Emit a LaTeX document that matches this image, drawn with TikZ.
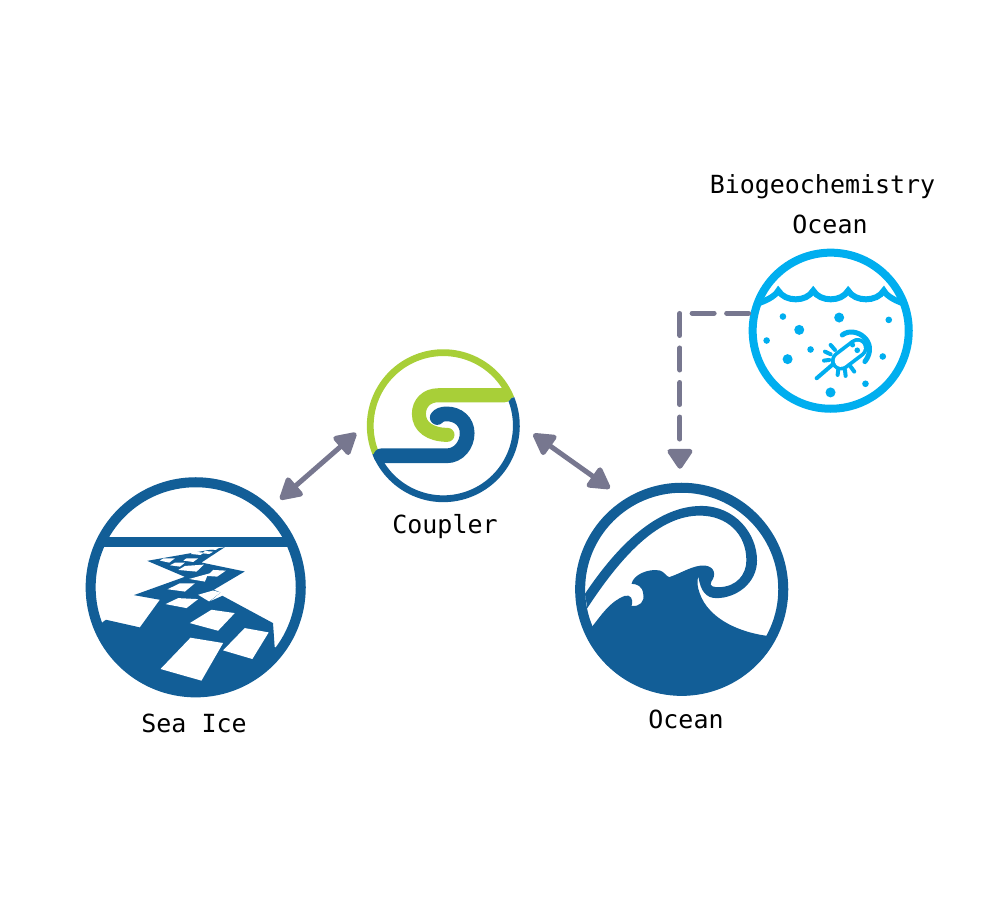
\documentclass[tikz,border=0pt]{standalone}
\usepackage{fontspec}
\setmonofont{DejaVu Sans Mono}
\usetikzlibrary{arrows.meta}
\definecolor{seablue}{HTML}{125E97}
\definecolor{leafgreen}{HTML}{A8CF38}
\definecolor{skyblue}{HTML}{00AEEF}
\definecolor{linkgrey}{HTML}{77778F}

\begin{document}
\begin{tikzpicture}[x=0.01cm,y=-0.01cm,
  ring/.style={circle,draw=seablue,line width=0.1cm,inner sep=0pt,outer sep=0pt},
  caption/.style={font=\fontsize{7.1pt}{9pt}\ttfamily,text=black},
  link/.style={{Triangle[length=0.24cm,width=0.26cm,round]}-{Triangle[length=0.24cm,width=0.26cm,round]},
    linkgrey,line width=0.05cm},
  feed/.style={-{Triangle[length=0.22cm,width=0.28cm,round]},linkgrey,line width=0.05cm,
    line cap=round,dash pattern=on 0.22cm off 0.125cm},
  cilium/.style={skyblue,line width=0.04cm,line cap=round}]

  \useasboundingbox (0,0) rectangle (1000,900);

  \node[ring,minimum size=2.1cm] (seaice) at (195.7,587.3) {};
  \node[ring,minimum size=2.03cm] (ocean) at (681.7,589.3) {};
  \node[circle,inner sep=0pt,outer sep=0pt,minimum size=1.46cm] (coupler) at (443.3,425.7) {};
  \node[ring,draw=skyblue,line width=0.08cm,minimum size=1.56cm] (bgc) at (830.7,330.7) {};

  \node[caption] (seaicetext) at (194,723) {Sea Ice};
  \node[caption] (oceantext) at (686,719) {Ocean};
  \node[caption] (couplertext) at (445,527) {Coupler};
  \node[caption] (bgctext) at (822.5,187) {Biogeochemistry};
  \node[caption] (bgcocean) at (830,224) {Ocean};

  % sea ice
  \begin{scope}
    \clip (seaice) circle[radius=1.06cm];
    \begin{scope}[shift={(70,460)},x=0.003333cm,y=-0.003333cm]
      \fill[seablue] (40,230) rectangle (720,262);
      \fill[seablue] (465,262) -- (232,303) -- (345,351) -- (192,406) -- (270,420)
        -- (210,503) -- (108,480) -- (97,488) -- (60,600) -- (377,720) -- (690,600)
        -- (615,562) -- (610,490) -- (458,408) -- (420,425) -- (452,398) -- (432,390)
        -- (525,335) -- (395,308) -- cycle;
      \fill[white] (362,534) -- (460,550) -- (395,663) -- (272,628) -- cycle;
      \fill[white] (525,505) -- (597,518) -- (548,598) -- (460,572) -- cycle;
      \fill[white] (425,450) -- (495,460) -- (445,513) -- (360,490) -- cycle;
      \fill[white] (325,415) -- (385,418) -- (350,445) -- (287,433) -- cycle;
      \fill[white] (385,405) -- (430,392) -- (452,398) -- (418,425) -- cycle;
    \end{scope}
    \begin{scope}[shift={(130,540)},x=0.003333cm,y=-0.003333cm]
      \fill[white] (248,24) -- (268,22) -- (258,30) -- (240,28) -- cycle;
      \fill[white] (225,33) -- (250,35) -- (238,42) -- (218,40) -- cycle;
      \fill[white] (190,35) -- (222,38) -- (212,45) -- (183,42) -- cycle;
      \fill[white] (170,55) -- (205,55) -- (190,66) -- (160,62) -- cycle;
      \fill[white] (100,55) -- (135,55) -- (118,68) -- (90,62) -- cycle;
      \fill[white] (135,68) -- (165,68) -- (150,80) -- (120,76) -- cycle;
      \fill[white] (165,78) -- (222,74) -- (200,95) -- (145,90) -- cycle;
      \fill[white] (178,117) -- (240,100) -- (250,90) -- (288,92) -- (262,110) -- (232,108) -- (225,125) -- cycle;
      \fill[white] (150,130) -- (195,130) -- (165,155) -- (113,148) -- cycle;
    \end{scope}
  \end{scope}

  % ocean wave
  \begin{scope}
    \clip (ocean) circle[radius=1.06cm];
    \begin{scope}[shift={(560,470)},x=0.003333cm,y=-0.003333cm]
      \fill[seablue] (97,470) .. controls (125,435) and (150,395) .. (195,378)
        .. controls (210,374) and (222,385) .. (215,408)
        .. controls (240,412) and (255,395) .. (250,372)
        .. controls (248,350) and (232,342) .. (215,342)
        .. controls (220,315) and (265,295) .. (300,302)
        .. controls (312,305) and (318,318) .. (328,322)
        .. controls (365,310) and (400,285) .. (435,287)
        .. controls (465,290) and (470,315) .. (455,335)
        .. controls (445,350) and (465,353) .. (480,352)
        .. controls (530,350) and (560,315) .. (560,272)
        .. controls (560,190) and (500,137) .. (420,137)
        .. controls (300,137) and (190,250) .. (82,415)
        -- (75,372)
        .. controls (170,230) and (290,108) .. (425,108)
        .. controls (525,108) and (592,190) .. (592,272)
        .. controls (592,340) and (530,385) .. (470,385)
        .. controls (440,385) and (422,365) .. (416,320)
        .. controls (405,345) and (425,395) .. (450,420)
        .. controls (490,465) and (560,490) .. (620,498)
        -- (700,560) -- (365,700) -- (40,560) -- cycle;
    \end{scope}
  \end{scope}

  % coupler
  \draw[leafgreen,line width=0.068cm] (coupler.22) arc[start angle=22,end angle=202,radius=0.73cm];
  \draw[seablue,line width=0.068cm] (coupler.202) arc[start angle=202,end angle=382,radius=0.73cm];
  \begin{scope}[shift={(355,340)},x=0.003333cm,y=-0.003333cm,line cap=round]
    \draw[leafgreen,line width=0.14cm] (450,166) -- (250,166)
      .. controls (215,166) and (192,190) .. (192,222)
      .. controls (192,260) and (225,285) .. (278,285);
    \draw[seablue,line width=0.147cm] (78,348) -- (275,348)
      .. controls (312,348) and (337,315) .. (337,280)
      .. controls (337,245) and (310,222) .. (275,222)
      .. controls (262,222) and (252,226) .. (247,233);
  \end{scope}

  % biogeochemistry
  \begin{scope}
    \clip (bgc) circle[radius=0.8cm];
    \begin{scope}[shift={(740,240)},x=0.003333cm,y=-0.003333cm]
      \draw[skyblue,line width=0.06cm,miter limit=8] (40,195) .. controls (75,185) and (105,170) .. (115,152)
        .. controls (135,187) and (200,187) .. (220,152)
        .. controls (240,187) and (305,187) .. (325,152)
        .. controls (345,187) and (412,187) .. (432,152)
        .. controls (442,170) and (470,185) .. (505,195);
    \end{scope}
  \end{scope}
  \begin{scope}[shift={(740,240)},x=0.003333cm,y=-0.003333cm]
    \foreach \cx/\cy in {129/230,447/240,80/302,212/329,429/350,377/432}
      \fill[skyblue] (\cx,\cy) circle[radius=0.033cm];
    \foreach \cx/\cy in {298/233,178/270,143/358,272/458}
      \fill[skyblue] (\cx,\cy) circle[radius=0.05cm];
  \end{scope}
  \begin{scope}[shift={(810,320)},x=0.003333cm,y=-0.003333cm]
    \draw[cilium,line width=0.2cm] (93,122) -- (143,84);
    \draw[white,line width=0.125cm,line cap=round] (93,122) -- (143,84);
    \fill[skyblue] (128,75) circle[radius=0.025cm];
    \fill[skyblue] (142,91) circle[radius=0.028cm];
    \draw[cilium,line width=0.05cm] (97,45) .. controls (135,15) and (210,65) .. (165,125);
    \foreach \ax/\ay/\bx/\by in {20/175/70/132,62/75/75/90,45/95/62/103,42/122/58/120,
      83/165/85/148,107/168/105/150,133/155/122/140}
      \draw[cilium] (\ax,\ay) -- (\bx,\by);
  \end{scope}

  % connectors
  \draw[link,shorten <=0.19cm,shorten >=0.17cm] (coupler.176.8) -- (seaice.47.25);
  \draw[link,shorten <=0.21cm,shorten >=0.24cm] (coupler.3.2) -- (ocean.121.7);
  \draw[feed,shorten <=0.06cm,shorten >=0.19cm] (bgc.167.6) -| (ocean.91.2);
\end{tikzpicture}
\end{document}
